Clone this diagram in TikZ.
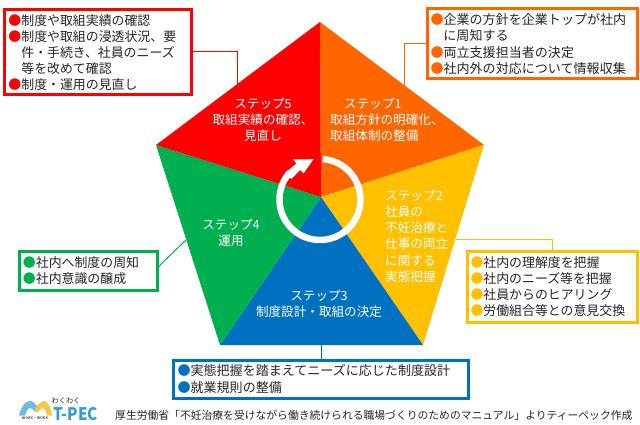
\documentclass[tikz,border=0pt]{standalone}
\usepackage{fontspec}
\setmainfont{Noto Sans CJK JP}
\definecolor{cred}{HTML}{FF0000}
\definecolor{corange}{HTML}{FF6600}
\definecolor{cyellow}{HTML}{FFC000}
\definecolor{cgreen}{HTML}{00B050}
\definecolor{cblue}{HTML}{0070C0}
\definecolor{ctxt}{HTML}{262626}
\definecolor{lsky}{HTML}{6DBBE6}
\definecolor{lyel}{HTML}{F7C744}
\definecolor{ltpec}{HTML}{3A9AD9}
\newcommand{\bul}[1]{\textcolor{#1}{●}}
\newcommand{\hng}{\hspace*{12.9pt}}
\tikzset{
  x=1pt,y=-1pt,
  callout/.style={draw=#1,line width=3pt,fill=white,anchor=north west,inner sep=0pt,outer sep=0pt,
    align=left,text=ctxt,font=\fontsize{12.9}{16.1}\selectfont},
  calloutw/.style={callout=#1,font=\fontsize{13.05}{16.1}\selectfont},
  lead/.style={color=#1,line width=1pt},
  steptxt/.style={text=white,font=\fontsize{12.6}{16.2}\selectfont,inner sep=0pt},
}
\begin{document}
\begin{tikzpicture}
\useasboundingbox (0,0) rectangle (640,425);
\fill[white] (0,0) rectangle (640,425);
% pentagon
\coordinate (C) at (321,197);
\coordinate (T) at (320,22);
\coordinate (R) at (484,145);
\coordinate (BR) at (423,345);
\coordinate (BL) at (220,345);
\coordinate (L) at (156,145);
\fill[corange] (C)--(T)--(R)--cycle;
\fill[cyellow] (C)--(R)--(BR)--cycle;
\fill[cblue] (C)--(BR)--(BL)--cycle;
\fill[cgreen] (C)--(BL)--(L)--cycle;
\fill[cred] (C)--(L)--(T)--cycle;
% ring
\draw[white,line width=6.5pt] (322.8,159.1) arc[start angle=-86,end angle=222,radius=40.5];
\fill[white] (313.5,159.2) -- (293,159.5) -- (296.5,163.5) -- (285,173) -- (291.5,179) -- (300,170) -- (303.5,173.5) -- cycle;
% callouts
\node[callout=cred,minimum width=187pt,minimum height=85pt,text width=180pt] (b5) at (4,10)
 {\hspace*{1pt}\parbox[t]{178pt}{\bul{cred}制度や取組実績の確認\\\bul{cred}制度や取組の浸透状況、要\\\hng 件・手続き、社員のニーズ\\\hng 等を改めて確認\\\bul{cred}制度・運用の見直し}};
\node[calloutw=corange,minimum width=210pt,minimum height=70pt,text width=205pt] (b1) at (427,9)
 {\hspace*{1pt}\parbox[t]{200pt}{\bul{corange}企業の方針を企業トップが社内\\\hng に周知する\\\bul{corange}両立支援担当者の決定\\\bul{corange}社内外の対応について情報収集}};
\node[callout=cyellow,minimum width=170pt,minimum height=71pt,text width=165pt] (b2) at (467,251)
 {\hspace*{1pt}\parbox[t]{160pt}{\bul{cyellow}社内の理解度を把握\\\bul{cyellow}社内のニーズ等を把握\\\bul{cyellow}社員からのヒアリング\\\bul{cyellow}労働組合等との意見交換}};
\node[calloutw=cblue,minimum width=295pt,minimum height=38pt,text width=290pt] (b3) at (173,360)
 {\hspace*{2pt}\parbox[t]{285pt}{\bul{cblue}実態把握を踏まえてニーズに応じた制度設計\\\bul{cblue}就業規則の整備}};
\node[callout=cgreen,minimum width=138pt,minimum height=39pt,text width=132pt] (b4) at (19,251)
 {\hspace*{1pt}\parbox[t]{128pt}{\bul{cgreen}社内へ制度の周知\\\bul{cgreen}社内意識の醸成}};
% connector ends
\coordinate (e5a) at (237,52); \coordinate (e5) at (237,84);
\coordinate (e1a) at (404,44); \coordinate (e1) at (404,87);
\coordinate (e2) at (456,239); \coordinate (e2a) at (552,239);
\coordinate (e3) at (321,345);
\coordinate (e4) at (186,240);
\draw[lead=cred] (b5.east |- e5a) -- (e5a) -- (e5);
\draw[lead=corange] (b1.west |- e1a) -- (e1a) -- (e1);
\draw[lead=cyellow] (e2) -- (e2a) -- (e2a |- b2.north);
\draw[lead=cblue] (e3) -- (e3 |- b3.north);
\draw[lead=cgreen] (b4.east |- 0,268) -- (e4);
% step labels
\node[steptxt,align=center] (s5) at (263,120) {ステップ5\\取組実績の確認、\\見直し};
\node[steptxt,align=left,anchor=west] (s1) at (330,120) {\hspace*{14pt}ステップ1\\取組方針の明確化、\\取組体制の整備};
\node[steptxt,align=left,anchor=west] (s2) at (385,236) {ステップ2\\社員の\\不妊治療と\\仕事の両立\\に関する\\実態把握};
\node[steptxt,align=center] (s3) at (319,304) {ステップ3\\制度設計・取組の決定};
\node[steptxt,align=center] (s4) at (231,233) {ステップ4\\運用};
% source
\node[anchor=west,inner sep=0pt,text=ctxt,font=\fontsize{10.8}{12}\selectfont] (src) at (115,415) {厚生労働省「不妊治療を受けながら働き続けられる職場づくりのためのマニュアル」よりティーペック作成};
% logo
\fill[lsky] (19,415.5) .. controls (21,407) and (25,401) .. (30,401) .. controls (33,401) and (36,404) .. (38,408) -- (35,412) .. controls (33,409) and (31,408) .. (30,408) .. controls (28,408) and (26,412) .. (25,415.5) -- cycle;
\fill[lyel] (35,409) .. controls (38,404) and (41,401) .. (45,401) .. controls (48,402) and (51,409) .. (52.5,415.5) -- (47,415.5) .. controls (46,411) and (45,408) .. (43,408) .. controls (41,408) and (39,411) .. (37,413) -- cycle;
\node[font=\fontsize{3.6}{4}\selectfont\bfseries,text=ctxt!70,inner sep=0pt] (lw) at (35,418.5) {WORK・WORK};
\node[font=\fontsize{7.2}{8}\selectfont,text=ctxt,inner sep=0pt] (lk) at (66,400.5) {わくわく};
\node[font=\fontsize{16}{17}\selectfont\bfseries,text=ltpec,inner sep=0pt] (lt) at (75.5,414) {\scalebox{0.95}[1.08]{T-PEC}};
\end{tikzpicture}
\end{document}
